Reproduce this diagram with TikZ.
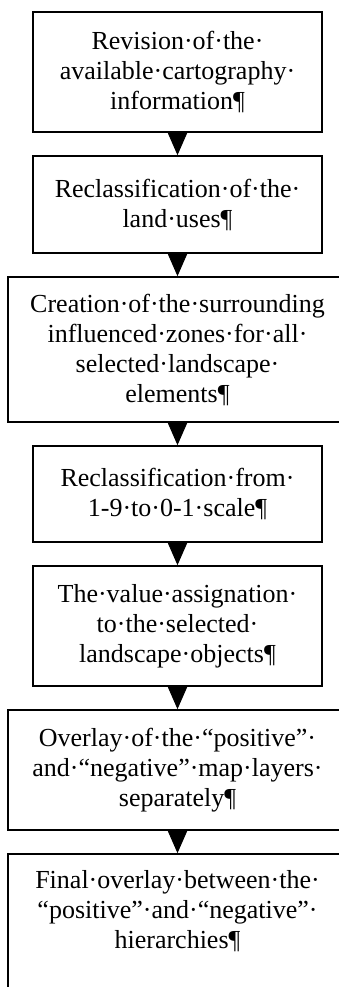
\documentclass[tikz,border=0pt]{standalone}
\usepackage{fontspec}
\setmainfont{Liberation Serif}
\usepackage{tikz}
\usetikzlibrary{arrows.meta,positioning}

\begin{document}
\begin{tikzpicture}[>={Triangle[length=22pt,width=19pt]},node distance=22.4pt,x=1pt,y=1pt]
\tikzstyle{stepbox}=[draw,line width=1.6pt,align=center,inner sep=4pt,minimum width=289pt,font={\fontsize{26}{30}\selectfont}]
\tikzstyle{widebox}=[stepbox,minimum width=339pt]
\useasboundingbox (0,0) rectangle (339,-987);
\clip (0,0) rectangle (339,-987);
\node[stepbox,minimum height=120pt] (revision) at (177.5,-72) {Revision·of·the·\\available·cartography·\\information¶};
\node[stepbox,minimum height=97pt,below=of revision] (landuse) {Reclassification·of·the·\\land·uses¶};
\node[widebox,minimum height=145pt,below=of landuse] (zones) {Creation·of·the·surrounding\\influenced·zones·for·all·\\selected·landscape·\\elements¶};
\node[stepbox,minimum height=96pt,below=of zones] (rescale) {Reclassification·from·\\1-9·to·0-1·scale¶};
\node[stepbox,minimum height=120pt,below=of rescale] (assign) {The·value·assignation·\\to·the·selected·\\landscape·objects¶};
\node[widebox,minimum height=120pt,below=of assign] (overlay) {Overlay·of·the·“positive”·\\and·“negative”·map·layers·\\separately¶};
\node[widebox,inner ysep=16pt,text depth=90pt,below=of overlay] (final) {Final·overlay·between·the·\\“positive”·and·“negative”·\\hierarchies¶};
\foreach \a/\b in {revision/landuse,landuse/zones,zones/rescale,rescale/assign,assign/overlay,overlay/final}{\draw[->,line width=1pt] (\a) -- (\b);}
\end{tikzpicture}
\end{document}
